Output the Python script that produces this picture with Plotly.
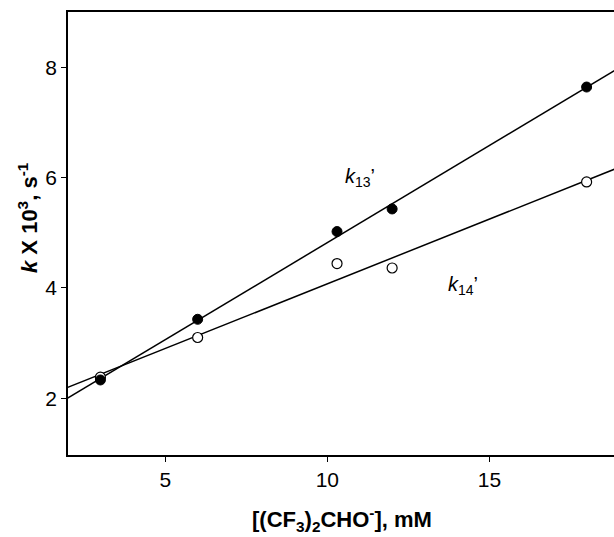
import numpy as np
import plotly.graph_objects as go

# Data
conc = [3, 6, 10.3, 12, 18]                 # [(CF3)2CHO-], mM
k13 = [2.33, 3.43, 5.02, 5.43, 7.64]        # filled circles
k14 = [2.38, 3.10, 4.44, 4.36, 5.92]        # open circles
x_ticks = [5, 10, 15]
y_ticks = [2, 4, 6, 8]

# Linear fits
xf = np.array([1.5, 20.0])
p13 = np.polyfit(conc, k13, 1)
p14 = np.polyfit(conc, k14, 1)

FONT = "Liberation Sans, Arial, Helvetica"

fig = go.Figure()
fig.add_trace(go.Scatter(x=xf, y=np.polyval(p13, xf), mode="lines",
                         line=dict(color="black", width=1.5), showlegend=False))
fig.add_trace(go.Scatter(x=xf, y=np.polyval(p14, xf), mode="lines",
                         line=dict(color="black", width=1.5), showlegend=False))
fig.add_trace(go.Scatter(x=conc, y=k14, mode="markers",
                         marker=dict(symbol="circle", size=10, color="white",
                                     line=dict(color="black", width=1.2)),
                         showlegend=False))
fig.add_trace(go.Scatter(x=conc, y=k13, mode="markers",
                         marker=dict(symbol="circle", size=10, color="black",
                                     line=dict(color="black", width=1)),
                         showlegend=False))

fig.add_annotation(x=11.0, y=6.0, text="<i>k</i><sub>13</sub>\u2019", showarrow=False,
                   font=dict(family=FONT, size=20, color="black"))
fig.add_annotation(x=14.2, y=4.05, text="<i>k</i><sub>14</sub>\u2019", showarrow=False,
                   font=dict(family=FONT, size=20, color="black"))

# Axis titles
fig.add_annotation(xref="paper", yref="paper", x=(342 - 68) / 546, y=(455 - 519) / 443,
                   xanchor="center", yanchor="middle", showarrow=False,
                   text="<b>[(CF<sub>3</sub>)<sub>2</sub>CHO<sup>-</sup>], mM</b>",
                   font=dict(family=FONT, size=22, color="black"))
fig.add_annotation(xref="paper", yref="paper", x=(28 - 68) / 546, y=(455 - 218) / 443,
                   xanchor="center", yanchor="middle", showarrow=False, textangle=-90,
                   text="<b><i>k</i> X 10<sup>3</sup>, s<sup>-1</sup></b>",
                   font=dict(family=FONT, size=22, color="black"))

fig.update_layout(
    width=614, height=537,
    margin=dict(l=68, r=0, t=12, b=82),
    paper_bgcolor="white", plot_bgcolor="white",
    font=dict(family=FONT, color="black", size=21),
    xaxis=dict(range=[2, 18.845], tickvals=x_ticks, showgrid=False, zeroline=False,
               showline=True, linecolor="black", linewidth=1.5, mirror=True,
               ticks="outside", ticklen=5, tickwidth=1.2, tickcolor="black",
               tickfont=dict(size=21)),
    yaxis=dict(range=[0.97, 9.0], tickvals=y_ticks, showgrid=False, zeroline=False,
               showline=True, linecolor="black", linewidth=1.5, mirror=False,
               ticks="outside", ticklen=5, tickwidth=1.2, tickcolor="black",
               tickfont=dict(size=21)),
)

fig.write_html("out.html", config={"displayModeBar": False},
               post_script="document.body.style.margin='0';")
